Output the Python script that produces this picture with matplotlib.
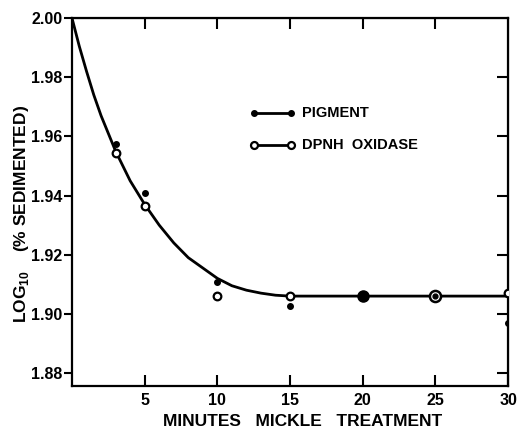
import matplotlib.pyplot as plt

# valores
minutos = [3, 5, 10, 15, 20, 25, 30]
pigmento = [1.9575, 1.9407, 1.9107, 1.9027, 1.906, 1.906, 1.897]
dpnh = [1.9545, 1.9366, 1.906, 1.906, 1.906, 1.906, 1.907]

# curva desenhada a mao
curva_t = [0, 0.5, 1, 1.5, 2, 3, 4, 5, 6, 7, 8, 9, 10, 11, 12, 13, 14, 15, 20, 25, 30]
curva_y = [2.000, 1.9905, 1.982, 1.974, 1.967, 1.955, 1.945, 1.937, 1.930, 1.924,
           1.919, 1.9155, 1.912, 1.9095, 1.908, 1.907, 1.9063, 1.906, 1.906, 1.906, 1.906]

xticks = [5, 10, 15, 20, 25, 30]
yticks = [1.88, 1.90, 1.92, 1.94, 1.96, 1.98, 2.00]

plt.rcParams['font.family'] = ['Liberation Sans', 'DejaVu Sans']
plt.rcParams['font.weight'] = 'bold'
plt.rcParams['axes.labelweight'] = 'bold'
plt.rcParams['mathtext.fontset'] = 'custom'
plt.rcParams['mathtext.bf'] = 'Liberation Sans:bold'

fig = plt.figure(figsize=(5.2, 4.32), dpi=100)
ax = fig.add_axes([0.1385, 0.1065, 0.8385, 0.8515])

ax.plot(curva_t, curva_y, color='black', lw=2, zorder=2)
ax.plot(minutos, pigmento, 'o', color='black', ms=4, zorder=3)
ax.plot(minutos, dpnh, 'o', mfc='white', mec='black', mew=1.6, ms=5.5, zorder=4)
# pontos sobrepostos em 20 e 25
ax.plot([20], [1.906], 'o', color='black', ms=8, zorder=5)
ax.plot([25], [1.906], 'o', mfc='white', mec='black', mew=1.8, ms=8, zorder=5)
ax.plot([25], [1.906], 'o', color='black', ms=3.5, zorder=6)

# legenda feita a mao
ax.plot([12.5, 15.05], [1.968, 1.968], color='black', lw=2)
ax.plot([12.5, 15.05], [1.968, 1.968], 'o', color='black', ms=4)
ax.plot([12.5, 15.05], [1.957, 1.957], color='black', lw=2)
ax.plot([12.5, 15.05], [1.957, 1.957], 'o', mfc='white', mec='black', mew=1.6, ms=5)
ax.text(15.8, 1.968, 'PIGMENT', va='center', fontsize=10.5)
ax.text(15.8, 1.957, 'DPNH  OXIDASE', va='center', fontsize=10.5)

ax.set_xlim(0, 30)
ax.set_ylim(1.8756, 2.0)
ax.set_xticks(xticks)
ax.set_yticks(yticks)
ax.set_yticklabels(['%.2f' % v for v in yticks])
ax.tick_params(axis='x', direction='in', length=8, width=1.5, labelsize=11.5, pad=5)
ax.tick_params(axis='y', direction='out', length=6, width=1.5, labelsize=11.5, pad=1)
for s in ax.spines.values():
    s.set_linewidth(1.6)

topo = ax.secondary_xaxis('top')
topo.set_xticks([5, 10, 15, 20, 25])
topo.tick_params(direction='in', length=8, width=1.5, labeltop=False)
direita = ax.secondary_yaxis('right')
direita.set_yticks(yticks[:-1])
direita.tick_params(direction='in', length=8, width=1.5, labelright=False)

ax.set_xlabel('MINUTES   MICKLE   TREATMENT', fontsize=12.5)
ax.xaxis.set_label_coords(0.528, -0.077)
ax.set_ylabel('LOG$_{\\mathbf{10}}$    (% SEDIMENTED)', fontsize=12.5)
ax.yaxis.set_label_coords(-0.095, 0.467)

plt.savefig('out.png', dpi=100)
